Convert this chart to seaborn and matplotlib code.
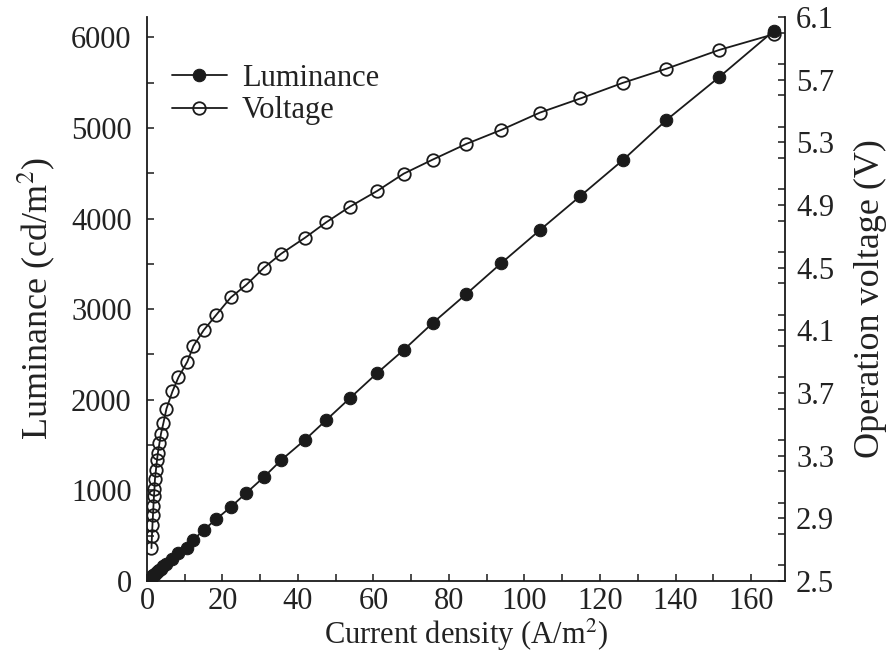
import numpy as np
import pandas as pd
import matplotlib
matplotlib.use("Agg")
import matplotlib.pyplot as plt
from matplotlib.ticker import MultipleLocator
import seaborn as sns

# Current density (A/m^2) at each measurement step
current_density = [1.19, 1.32, 1.46, 1.59, 1.72, 1.85, 1.99, 2.12, 2.38, 2.65,
                   2.91, 3.31, 3.71, 4.37, 5.17, 6.75, 8.34, 10.7, 12.3, 15.0,
                   18.4, 22.2, 26.3, 31.0, 35.6, 41.8, 47.5, 53.8, 61.0, 68.0,
                   75.7, 84.6, 93.9, 104.1, 114.8, 126.1, 137.6, 151.6, 166.0]

# Luminance (cd/m^2)
luminance = [40, 45, 51, 56, 61, 66, 71, 76, 86, 95,
             105, 120, 134, 160, 188, 246, 305, 364, 453, 563,
             684, 817, 971, 1148, 1336, 1556, 1777, 2020, 2296, 2550,
             2848, 3168, 3510, 3874, 4249, 4647, 5088, 5563, 6071]

# Operation voltage (V)
voltage = [2.71, 2.79, 2.86, 2.92, 2.98, 3.04, 3.09, 3.15, 3.21, 3.27,
           3.32, 3.38, 3.44, 3.51, 3.60, 3.71, 3.80, 3.90, 4.00, 4.10,
           4.20, 4.31, 4.39, 4.50, 4.59, 4.69, 4.79, 4.89, 4.99, 5.10,
           5.19, 5.29, 5.38, 5.49, 5.58, 5.68, 5.77, 5.89, 5.99]

x_ticks = [0, 20, 40, 60, 80, 100, 120, 140, 160]
lum_ticks = [0, 1000, 2000, 3000, 4000, 5000, 6000]
volt_ticks = [2.5, 2.9, 3.3, 3.7, 4.1, 4.5, 4.9, 5.3, 5.7, 6.1]

df = pd.DataFrame({"J": current_density, "L": luminance, "V": voltage})

sns.set_theme(style="ticks")
plt.rcParams["font.family"] = ["Liberation Serif", "DejaVu Serif"]
plt.rcParams["mathtext.fontset"] = "stix"

ink = "#1a1a1a"
txt = "#222222"
FS = 22
FS_Y = 26

fig = plt.figure(figsize=(8.88, 6.57), dpi=100)
ax = fig.add_axes([0.1655, 0.1157, 0.7185, 0.8584])
ax2 = ax.twinx()

sns.lineplot(data=df, x="J", y="L", ax=ax, sort=False, estimator=None,
             color=ink, linewidth=1.3, marker="o", markersize=9,
             markerfacecolor=ink, markeredgecolor=ink, label="Luminance",
             legend=False)
sns.lineplot(data=df, x="J", y="V", ax=ax2, sort=False, estimator=None,
             color=ink, linewidth=1.3, marker="o", markersize=9,
             markerfacecolor="none", markeredgecolor=ink, markeredgewidth=1.3,
             label="Voltage", legend=False)

ax.set_xlim(0, 169)
ax.set_ylim(0, 6225)
ax2.set_ylim(2.5, 6.1)

ax.set_xticks(x_ticks)
ax.set_yticks(lum_ticks)
ax2.set_yticks(volt_ticks)
ax2.set_yticklabels([f"{v:.1f}" for v in volt_ticks])
ax.xaxis.set_minor_locator(MultipleLocator(10))
ax.yaxis.set_minor_locator(MultipleLocator(500))
ax2.yaxis.set_minor_locator(MultipleLocator(0.2))

for a in (ax, ax2):
    a.spines["top"].set_visible(False)
    for s in a.spines.values():
        s.set_color(ink)
        s.set_linewidth(1.3)
    a.tick_params(which="both", direction="in", color=ink, width=1.1,
                  labelsize=FS, labelcolor=txt)
    a.tick_params(which="major", length=5)
    a.tick_params(which="minor", length=5)
ax.spines["right"].set_visible(False)
ax2.spines["left"].set_visible(False)
ax2.spines["bottom"].set_visible(False)
ax.tick_params(axis="x", pad=4, top=False)
ax.tick_params(axis="y", pad=11)
ax2.tick_params(axis="y", pad=8)

ax.set_xlabel("Current density (A/m$^2$)", fontsize=FS, color=txt, labelpad=1)
ax.set_ylabel("Luminance (cd/m$^2$)", fontsize=FS_Y, color=txt, labelpad=10)
ax2.set_ylabel("Operation voltage (V)", fontsize=FS_Y, color=txt, labelpad=14)

h1, l1 = ax.get_legend_handles_labels()
h2, l2 = ax2.get_legend_handles_labels()
leg = ax.legend(h1 + h2, l1 + l2, loc="upper left", bbox_to_anchor=(0.005, 0.955),
                frameon=False, fontsize=FS, handlelength=1.8, handletextpad=0.5,
                labelspacing=0.12, borderaxespad=0.3)
for t in leg.get_texts():
    t.set_color(txt)

fig.savefig("out.png", dpi=100, facecolor="white")
